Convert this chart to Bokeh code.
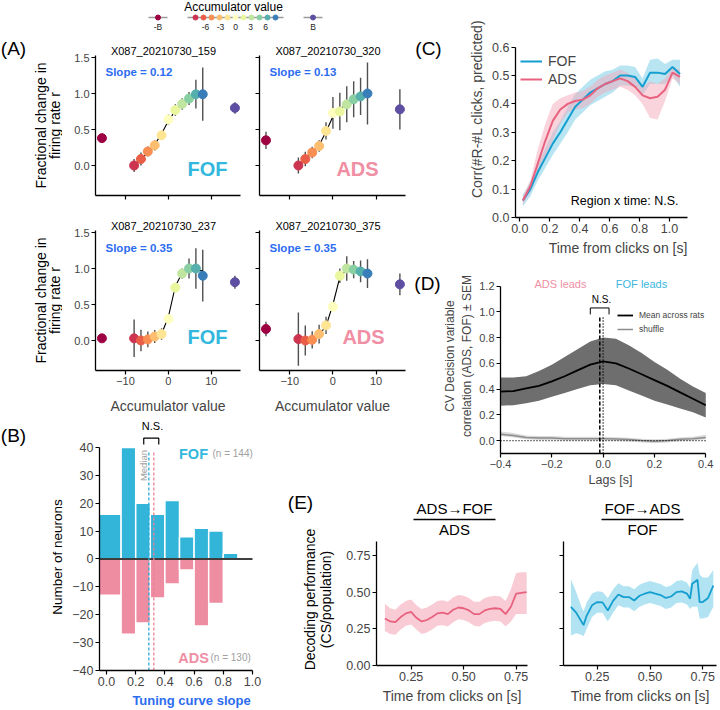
import numpy as np
from bokeh.plotting import figure
from bokeh.models import (Range1d, FixedTicker, Label, Legend, LegendItem, GridBox,
                          NumeralTickFormatter)
from bokeh.layouts import row, column
from bokeh.embed import file_html
from bokeh.resources import INLINE
from bokeh.core.properties import value

# ------------------------------------------------------------------ DATA
# Panel A : tuning curves
acc_bins = [-8, -6.4, -4.8, -3.2, -1.6, 0, 1.6, 3.2, 4.8, 6.4, 8]
acc_bound = 15.5
acc_colors = ["#cc3450", "#ea5d47", "#f98e52", "#fdbf6f", "#fee593", "#ffffbf",
              "#eaf79e", "#bfe5a0", "#88d0a4", "#55afad", "#397eb8"]
negB_color = "#9e0142"
posB_color = "#5e4fa2"
cbar_ticks = [-15.5, -6, -3, 0, 3, 6, 15.5]
cbar_tick_labels = ["-B", "-6", "-3", "0", "3", "6", "B"]

cell_names = ["X087_20210730_159", "X087_20210730_320", "X087_20210730_237", "X087_20210730_375"]
cell_regions = ["FOF", "ADS", "FOF", "ADS"]
cell_slopes = [0.12, 0.13, 0.35, 0.35]

c159_mean = [0.0, 0.09, 0.195, 0.28, 0.42, 0.64, 0.77, 0.855, 0.93, 0.99, 0.99]
c159_err = [0.09, 0.09, 0.07, 0.07, 0.05, 0.07, 0.08, 0.08, 0.09, 0.2, 0.37]
c159_fit = [0.0, 0.08, 0.18, 0.29, 0.44, 0.62, 0.76, 0.86, 0.93, 0.97, 0.99]
c159_negB = (0.38, 0.03)
c159_posB = (0.80, 0.08)

c320_mean = [0.0, 0.09, 0.18, 0.27, 0.48, 0.73, 0.75, 0.85, 0.92, 0.96, 1.0]
c320_err = [0.11, 0.1, 0.08, 0.08, 0.12, 0.22, 0.26, 0.25, 0.25, 0.26, 0.43]
c320_fit = [0.0, 0.09, 0.18, 0.28, 0.47, 0.68, 0.78, 0.86, 0.92, 0.96, 0.99]
c320_negB = (0.35, 0.12)
c320_posB = (0.78, 0.28)

c237_mean = [0.03, 0.0, 0.015, 0.055, 0.09, 0.30, 0.735, 0.93, 1.0, 1.0, 0.9]
c237_err = [0.26, 0.15, 0.11, 0.09, 0.08, 0.03, 0.03, 0.07, 0.14, 0.28, 0.36]
c237_fit = [0.03, 0.03, 0.03, 0.04, 0.09, 0.33, 0.75, 0.94, 0.97, 0.97, 0.97]
c237_negB = (0.03, 0.05)
c237_posB = (0.81, 0.09)

c375_mean = [0.02, 0.0, 0.01, 0.09, 0.21, 0.47, 0.9, 1.0, 0.985, 0.96, 0.93]
c375_err = [0.37, 0.21, 0.12, 0.13, 0.12, 0.03, 0.1, 0.17, 0.12, 0.15, 0.2]
c375_fit = [0.02, 0.02, 0.03, 0.08, 0.2, 0.5, 0.88, 0.98, 0.98, 0.98, 0.98]
c375_negB = (0.16, 0.1)
c375_posB = (0.78, 0.15)

# Panel B : histogram of tuning-curve slopes
hist_left = [-0.05, 0.1, 0.2, 0.3, 0.4, 0.5, 0.6, 0.7, 0.8]
hist_right = [0.1, 0.2, 0.3, 0.4, 0.5, 0.6, 0.7, 0.8, 0.9]
fof_counts = [16, 40, 20, 16, 21, 8, 11, 10, 2]
ads_counts = [-13, -27, -23, -14, -9, -4, -24, -16, 0]
fof_median = 0.29
ads_median = 0.324
n_fof = 144
n_ads = 130

# Panel C : correlation with clicks
c_time = [0.02, 0.07, 0.12, 0.17, 0.22, 0.27, 0.32, 0.37, 0.42, 0.47, 0.52,
          0.57, 0.62, 0.67, 0.72, 0.77, 0.82, 0.87, 0.92, 0.97, 1.02, 1.07]
c_fof = [0.06, 0.10, 0.16, 0.21, 0.26, 0.30, 0.345, 0.39, 0.415, 0.44, 0.455,
         0.47, 0.48, 0.50, 0.50, 0.495, 0.46, 0.51, 0.51, 0.505, 0.53, 0.505]
c_fof_lo = [0.04, 0.075, 0.13, 0.175, 0.22, 0.26, 0.30, 0.345, 0.37, 0.395, 0.41,
            0.425, 0.44, 0.465, 0.465, 0.46, 0.43, 0.47, 0.47, 0.47, 0.50, 0.46]
c_fof_hi = [0.08, 0.125, 0.19, 0.245, 0.30, 0.34, 0.39, 0.435, 0.46, 0.485, 0.50,
            0.515, 0.52, 0.535, 0.535, 0.53, 0.49, 0.555, 0.56, 0.54, 0.555, 0.555]
c_ads = [0.06, 0.11, 0.19, 0.27, 0.34, 0.38, 0.40, 0.41, 0.415, 0.43, 0.455,
         0.47, 0.48, 0.49, 0.48, 0.46, 0.43, 0.42, 0.425, 0.45, 0.51, 0.495]
c_ads_lo = [0.045, 0.09, 0.15, 0.21, 0.27, 0.33, 0.37, 0.38, 0.385, 0.40, 0.425,
            0.44, 0.45, 0.46, 0.45, 0.43, 0.40, 0.35, 0.345, 0.41, 0.49, 0.47]
c_ads_hi = [0.075, 0.13, 0.24, 0.33, 0.40, 0.42, 0.43, 0.44, 0.445, 0.46, 0.485,
            0.50, 0.51, 0.52, 0.51, 0.49, 0.46, 0.48, 0.47, 0.49, 0.53, 0.52]

# Panel D : cross-correlation of decision variables
lags = [-0.4, -0.35, -0.3, -0.25, -0.2, -0.15, -0.1, -0.05, 0.0, 0.05, 0.1,
        0.15, 0.2, 0.25, 0.3, 0.35, 0.4]
dv_mean = [0.38, 0.385, 0.405, 0.425, 0.46, 0.50, 0.545, 0.59, 0.615, 0.60, 0.56,
           0.515, 0.47, 0.425, 0.375, 0.325, 0.275]
dv_hi = [0.49, 0.49, 0.50, 0.54, 0.59, 0.65, 0.71, 0.77, 0.80, 0.79, 0.74,
         0.68, 0.61, 0.55, 0.48, 0.42, 0.37]
dv_lo = [0.27, 0.275, 0.29, 0.31, 0.34, 0.37, 0.40, 0.43, 0.44, 0.43, 0.39,
         0.35, 0.31, 0.28, 0.25, 0.22, 0.18]
sh_mean = [0.05, 0.04, 0.025, 0.02, 0.02, 0.015, 0.015, 0.015, 0.015, 0.012, 0.008,
           0.0, -0.005, 0.0, 0.01, 0.015, 0.025]
sh_lo = [0.035, 0.025, 0.01, 0.005, 0.005, 0.0, 0.0, 0.0, 0.0, -0.003, -0.007,
         -0.015, -0.02, -0.015, -0.005, 0.0, 0.01]
sh_hi = [0.07, 0.06, 0.04, 0.035, 0.035, 0.03, 0.03, 0.03, 0.03, 0.027, 0.023,
         0.015, 0.01, 0.015, 0.025, 0.03, 0.045]
peak_lag = -0.013

# Panel E : decoding performance
e_ads_t = [0.125, 0.15, 0.175, 0.2, 0.225, 0.25, 0.275, 0.3, 0.325, 0.35, 0.375, 0.4,
           0.425, 0.45, 0.475, 0.5, 0.525, 0.55, 0.575, 0.6, 0.625, 0.65, 0.675, 0.7,
           0.725, 0.75, 0.775, 0.8]
e_ads = [0.32, 0.30, 0.295, 0.33, 0.355, 0.365, 0.325, 0.30, 0.31, 0.33, 0.355, 0.36,
         0.35, 0.38, 0.395, 0.39, 0.375, 0.35, 0.35, 0.375, 0.385, 0.39, 0.385, 0.35,
         0.40, 0.49, 0.495, 0.50]
e_ads_lo = [0.235, 0.215, 0.21, 0.245, 0.27, 0.28, 0.245, 0.215, 0.225, 0.245, 0.27, 0.275,
            0.265, 0.295, 0.315, 0.31, 0.295, 0.27, 0.265, 0.29, 0.30, 0.305, 0.30, 0.265,
            0.30, 0.35, 0.35, 0.35]
e_ads_hi = [0.42, 0.39, 0.38, 0.415, 0.44, 0.45, 0.41, 0.385, 0.395, 0.415, 0.44, 0.445,
            0.435, 0.465, 0.48, 0.475, 0.46, 0.435, 0.435, 0.46, 0.47, 0.475, 0.47, 0.44,
            0.52, 0.63, 0.635, 0.635]
e_fof_t = [0.125, 0.15, 0.175, 0.185, 0.2, 0.225, 0.25, 0.275, 0.3, 0.325, 0.35, 0.375,
           0.4, 0.425, 0.45, 0.475, 0.5, 0.525, 0.55, 0.575, 0.6, 0.625, 0.65, 0.675,
           0.69, 0.7, 0.725, 0.735, 0.75, 0.775, 0.8]
e_fof = [0.40, 0.36, 0.30, 0.275, 0.34, 0.41, 0.432, 0.43, 0.375, 0.44, 0.484, 0.466,
         0.466, 0.443, 0.475, 0.489, 0.50, 0.489, 0.48, 0.46, 0.47, 0.50, 0.505, 0.49,
         0.455, 0.557, 0.584, 0.432, 0.432, 0.46, 0.545]
e_fof_lo = [0.205, 0.22, 0.21, 0.2, 0.25, 0.33, 0.36, 0.36, 0.30, 0.36, 0.41, 0.395,
            0.395, 0.37, 0.40, 0.415, 0.425, 0.415, 0.405, 0.385, 0.395, 0.425, 0.43, 0.415,
            0.385, 0.40, 0.40, 0.32, 0.32, 0.33, 0.40]
e_fof_hi = [0.59, 0.50, 0.40, 0.37, 0.43, 0.49, 0.505, 0.50, 0.46, 0.52, 0.56, 0.54,
            0.54, 0.52, 0.55, 0.565, 0.575, 0.565, 0.555, 0.535, 0.545, 0.575, 0.58, 0.565,
            0.53, 0.65, 0.70, 0.62, 0.60, 0.60, 0.65]

# ------------------------------------------------------------------ STYLE
FONT = "Liberation Sans"
FOF_BAR = "#33b4d9"
ADS_BAR = "#ee8da2"
FOF_TXT = "#33b8dd"
ADS_TXT = "#f08ea4"
FOF_LINE = "#159fd1"
ADS_LINE = "#e8627f"
FOF_BAND = "#7fd0ea"
ADS_BAND = "#f3a9b9"
BLUE = "#2c6cf0"
GRAYTXT = "#a0a0a0"
MINUS = "\u2212"
FRAMES = {}


def mkfig(box, frame, xr, yr, axes=True):
    x0, y0, x1, y1 = box
    fl, ft, fr, fb = frame
    kw = dict(width=x1 - x0, height=y1 - y0,
              x_range=Range1d(*xr), y_range=Range1d(*yr),
              output_backend="svg", toolbar_location=None, title=None,
              min_border_left=fl - x0, min_border_right=x1 - fr,
              min_border_top=ft - y0, min_border_bottom=y1 - fb)
    if not axes:
        kw.update(x_axis_location=None, y_axis_location=None)
    p = figure(**kw)
    p.outline_line_color = None
    p.xgrid.visible = False
    p.ygrid.visible = False
    p.background_fill_color = "white"
    p.border_fill_color = "white"
    FRAMES[p.id] = frame
    return p


def strip(box, frame):
    # a plain text strip whose data coordinates are the page pixels
    fl, ft, fr, fb = frame
    return mkfig(box, frame, (fl, fr), (fb, ft), axes=False)


def stext(p, X, Y, text, size, angle=0.0, color="black"):
    p.text(x=[X], y=[Y], text=[text], text_font=value(FONT), text_font_size=size,
           text_align="center", text_baseline="middle", angle=angle, text_color=color)


def style_axes(p, tick_fs, label_fs, label_standoff=5):
    for ax in p.axis:
        ax.axis_line_width = 1.3
        ax.axis_line_color = "black"
        ax.major_tick_in = 0
        ax.major_tick_out = 4
        ax.major_tick_line_width = 1.2
        ax.minor_tick_line_color = None
        ax.major_label_text_font = FONT
        ax.major_label_text_font_size = tick_fs
        ax.major_label_standoff = 2
        ax.axis_label_text_font = FONT
        ax.axis_label_text_font_size = label_fs
        ax.axis_label_text_font_style = "normal"
        ax.axis_label_standoff = label_standoff


def lab(p, X, Y, text, size, color="black", bold=False, align="center",
        baseline="middle", angle=0.0):
    fl, ft, fr, fb = FRAMES[p.id]
    p.add_layout(Label(x=X - fl, y=fb - Y, x_units="screen", y_units="screen",
                       text=text, text_font=FONT, text_font_size=size, text_color=color,
                       text_font_style="bold" if bold else "normal",
                       text_align=align, text_baseline=baseline, angle=angle))


def minus_overrides(ticks, fmt):
    return {t: (MINUS + fmt.format(-t)) if t < 0 else fmt.format(t) for t in ticks}


# ------------------------------------------------------------------ COLORBAR LEGEND (top)
pcb = mkfig((0, 0, 410, 36), (0, 0, 410, 36), (-47, 35), (36, 0), axes=False)
cb_y = 17
pcb.segment(x0=[acc_bins[0] - 1.6, -acc_bound - 1.9, acc_bound - 1.9],
            y0=[cb_y] * 3,
            x1=[acc_bins[-1] + 1.6, -acc_bound + 1.9, acc_bound + 1.9],
            y1=[cb_y] * 3, line_color="#9a9a9a", line_width=1.5)
pcb.scatter(x=[-acc_bound] + acc_bins + [acc_bound], y=[cb_y] * 13, size=5,
            color=[negB_color] + acc_colors + [posB_color])
pcb.text(x=cbar_ticks, y=[26] * len(cbar_ticks), text=cbar_tick_labels,
         text_font=value(FONT), text_font_size="8.5px", text_align="center",
         text_baseline="middle", text_color="#222222")
pcb.text(x=[-0.4], y=[6], text=["Accumulator value"], text_font=value(FONT),
         text_font_size="12px", text_align="center", text_baseline="middle")

# ------------------------------------------------------------------ PANEL A
cells = [(c159_mean, c159_err, c159_fit, c159_negB, c159_posB),
         (c320_mean, c320_err, c320_fit, c320_negB, c320_posB),
         (c237_mean, c237_err, c237_fit, c237_negB, c237_posB),
         (c375_mean, c375_err, c375_fit, c375_negB, c375_posB)]
A_boxes = [(62, 36, 250, 218), (250, 36, 410, 218), (62, 218, 250, 418), (250, 218, 410, 418)]
A_frames = [(95, 36, 240, 195), (259, 36, 405, 195), (95, 218, 240, 370), (259, 218, 405, 370)]
A_axis_top = [55, 55, 230, 230]
A_zero = [165, 165, 340, 340]
A_ppu = 72.0
A_figs = []
for i in range(4):
    mean, err, fit, nb, pb = cells[i]
    fl, ft, fr, fb = A_frames[i]
    y_lo = -(fb - A_zero[i]) / A_ppu
    y_hi = (A_zero[i] - ft) / A_ppu
    p = mkfig(A_boxes[i], A_frames[i], (-17, 16.8), (y_lo, y_hi))
    xs = [-acc_bound] + acc_bins + [acc_bound]
    ms = [nb[0]] + mean + [pb[0]]
    es = [nb[1]] + err + [pb[1]]
    lo = [m - e for m, e in zip(ms, es)]
    hi = [m + e for m, e in zip(ms, es)]
    p.segment(x0=xs, y0=lo, x1=xs, y1=hi, line_color="#505050", line_width=1.4)
    p.line(acc_bins, fit, line_color="black", line_width=1.1)
    p.scatter(x=xs, y=ms, size=9, color=[negB_color] + acc_colors + [posB_color])
    style_axes(p, "11px", "14px", 10)
    p.xaxis.ticker = FixedTicker(ticks=[-10, 0, 10])
    p.yaxis.ticker = FixedTicker(ticks=[0, 0.5, 1.0, 1.5])
    p.yaxis.formatter = NumeralTickFormatter(format="0.0")
    p.yaxis.bounds = (y_lo, (A_zero[i] - A_axis_top[i]) / A_ppu)
    if i < 2:
        p.xaxis.major_label_overrides = {-10: "", 0: "", 10: ""}
    else:
        p.xaxis.major_label_overrides = {-10: MINUS + "10", 0: "0", 10: "10"}
        p.xaxis.axis_label = "Accumulator value"
    if i % 2 == 1:
        p.yaxis.major_label_overrides = {0: "", 0.5: "", 1: "", 1.5: ""}
    top = i < 2
    at = A_axis_top[i]
    lab(p, (fl + fr) / 2 - 4.5, at - 4.5, cell_names[i], "11px")
    lab(p, fl + 10, at + (16 if top else 17), "Slope = %.2f" % cell_slopes[i], "11.5px",
        color=BLUE, bold=True, align="left")
    reg = cell_regions[i]
    rx = fl + (112 if reg == "FOF" else (98 if top else 104))
    ry = fb - (27 if top else 34)
    lab(p, rx, ry, reg, "20px", color=FOF_TXT if reg == "FOF" else ADS_TXT, bold=True)
    A_figs.append(p)

stripA = strip((0, 36, 62, 418), (0, 36, 62, 418))
stext(stripA, 13, 48, "(A)", "19px")
for yc in [(55 + 195) / 2, (230 + 370) / 2]:
    stext(stripA, 40, yc, "Fractional change in", "14px", angle=np.pi / 2)
    stext(stripA, 54, yc, "firing rate r", "14px", angle=np.pi / 2)

blockA = column(pcb, row(stripA, column(row(A_figs[0], A_figs[1]),
                                        row(A_figs[2], A_figs[3]))))

# ------------------------------------------------------------------ PANEL B
B_frame = (99, 418, 283, 671)
B_ppx = 146.0   # px per unit slope
B_ppy = 2.8     # px per neuron
pB = mkfig((64, 418, 283, 710), B_frame, (-0.048, 1.0 + (283 - 252) / B_ppx),
           (-40, -40 + (671 - 418) / B_ppy))
pB.quad(left=hist_left, right=hist_right, bottom=0, top=fof_counts,
        fill_color=FOF_BAR, line_color="white", line_width=1.5)
pB.quad(left=hist_left, right=hist_right, bottom=ads_counts, top=0,
        fill_color=ADS_BAR, line_color="white", line_width=1.5)
pB.segment(x0=[-0.048], y0=[0], x1=[1.0], y1=[0], line_color="black", line_width=1.5)
pB.segment(x0=[fof_median], y0=[-40], x1=[fof_median], y1=[38.6],
           line_color="#2aaad6", line_dash="3 2", line_width=1.3)
pB.segment(x0=[ads_median], y0=[-40], x1=[ads_median], y1=[38.6],
           line_color="#ec7f98", line_dash="3 2", line_width=1.3)
pB.multi_line(xs=[[0.255, 0.255, 0.358, 0.358]], ys=[[41.0, 43.3, 43.3, 41.0]],
              line_color="black", line_width=1.2)
style_axes(pB, "12.5px", "13.5px", 6)
yt = [-40, -30, -20, -10, 0, 10, 20, 30, 40]
pB.yaxis.ticker = FixedTicker(ticks=yt)
pB.yaxis.major_label_overrides = minus_overrides(yt, "{:d}")
pB.yaxis.bounds = (-40, 40)
pB.xaxis.bounds = (-0.048, 1.0)
pB.xaxis.ticker = FixedTicker(ticks=[0, 0.2, 0.4, 0.6, 0.8, 1.0])
pB.xaxis.formatter = NumeralTickFormatter(format="0.0")
pB.xaxis.axis_label = "Tuning curve slope"
pB.xaxis.axis_label_text_color = BLUE
pB.xaxis.axis_label_text_font_style = "bold"
pB.xaxis.axis_label_text_font_size = "13px"
pB.xaxis.axis_label_standoff = 4
lab(pB, 152, 426, "N.S.", "11px")
lab(pB, 143, 466, "Median", "9.5px", color=GRAYTXT, angle=np.pi / 2)
lab(pB, 193, 454, "FOF", "14.5px", color=FOF_TXT, bold=True)
lab(pB, 212, 454, "(n = %d)" % n_fof, "10px", color=GRAYTXT, align="left")
lab(pB, 193, 658, "ADS", "14.5px", color=ADS_TXT, bold=True)
lab(pB, 210, 658, "(n = %d)" % n_ads, "10px", color=GRAYTXT, align="left")

stripB = strip((0, 418, 64, 710), (0, 418, 64, 671))
stext(stripB, 13, 435, "(B)", "19px")
stext(stripB, 57, 557, "Number of neurons", "13.5px", angle=np.pi / 2)

blockB = row(stripB, pB)

# ------------------------------------------------------------------ PANEL C
C_frame = (515, 0, 720, 219)
C_ppx = 149.7
C_ppy = (219 - 47) / 0.6
pC = mkfig((459, 0, 720, 258), C_frame, (-0.029, 1.12 + (720 - 687) / C_ppx),
           (0, 0.6 + 47 / C_ppy))
pC.varea(x=c_time, y1=c_fof_lo, y2=c_fof_hi, fill_color=FOF_BAND, fill_alpha=0.55)
pC.varea(x=c_time, y1=c_ads_lo, y2=c_ads_hi, fill_color=ADS_BAND, fill_alpha=0.5)
lf = pC.line(c_time, c_fof, line_color=FOF_LINE, line_width=2)
la = pC.line(c_time, c_ads, line_color=ADS_LINE, line_width=2)
style_axes(pC, "12.5px", "14px", 4)
pC.xaxis.ticker = FixedTicker(ticks=[0, 0.2, 0.4, 0.6, 0.8, 1.0])
pC.xaxis.formatter = NumeralTickFormatter(format="0.0")
pC.xaxis.bounds = (-0.029, 1.12)
pC.yaxis.ticker = FixedTicker(ticks=[0, 0.1, 0.2, 0.3, 0.4, 0.5, 0.6])
pC.yaxis.formatter = NumeralTickFormatter(format="0.0")
pC.yaxis.bounds = (0, 0.6)
pC.xaxis.axis_label = "Time from clicks on [s]"
pC.yaxis.axis_label = "Corr(#R-#L clicks, predicted)"
legC = Legend(items=[LegendItem(label="FOF", renderers=[lf]),
                     LegendItem(label="ADS", renderers=[la])],
              location=(5, 219 - 89), margin=0, padding=3, spacing=2,
              label_text_font=FONT, label_text_font_size="14px",
              glyph_width=22, glyph_height=14, label_height=14, label_standoff=6,
              border_line_color=None, background_fill_alpha=0)
pC.add_layout(legC)
lab(pC, 678, 202, "Region x time: N.S.", "12.5px", align="right")

stripC = strip((410, 0, 459, 258), (410, 0, 459, 219))
stext(stripC, 428, 48, "(C)", "19px")
blockC = row(stripC, pC)

# ------------------------------------------------------------------ PANEL D
D_frame = (496, 258, 720, 456)
D_ppx = 261.25
D_ppy = 130.8
pD = mkfig((440, 258, 720, 489), D_frame, (-0.4, 0.4 + (720 - 705) / D_ppx),
           (-0.1, 1.2 + (286 - 258) / D_ppy))
pD.varea(x=lags, y1=dv_lo, y2=dv_hi, fill_color="#6e6e6e")
lm = pD.line(lags, dv_mean, line_color="black", line_width=1.8)
pD.varea(x=lags, y1=sh_lo, y2=sh_hi, fill_color="#dadada")
ls = pD.line(lags, sh_mean, line_color="#8c8c8c", line_width=1.5)
pD.segment(x0=[lags[0]], y0=[0], x1=[lags[-1]], y1=[0], line_color="black",
           line_dash="1 2", line_width=1.3)
pD.segment(x0=[peak_lag], y0=[-0.1], x1=[peak_lag], y1=[0.97], line_color="black",
           line_dash="4 2", line_width=1.5)
pD.segment(x0=[0.0], y0=[-0.1], x1=[0.0], y1=[0.97], line_color="black",
           line_dash="1 2", line_width=1.5)
pD.multi_line(xs=[[-0.05, -0.05, 0.023, 0.023]], ys=[[0.98, 1.03, 1.03, 0.98]],
              line_color="black", line_width=1.0)
style_axes(pD, "11px", "12px", 2)
xt = [-0.4, -0.2, 0.0, 0.2, 0.4]
pD.xaxis.ticker = FixedTicker(ticks=xt)
pD.xaxis.major_label_overrides = minus_overrides(xt, "{:.1f}")
pD.xaxis.bounds = (-0.4, 0.4)
pD.yaxis.ticker = FixedTicker(ticks=[0, 0.2, 0.4, 0.6, 0.8, 1.0, 1.2])
pD.yaxis.formatter = NumeralTickFormatter(format="0.0")
pD.yaxis.bounds = (-0.1, 1.2)
pD.xaxis.axis_label = "Lags [s]"
pD.xaxis.axis_label_text_font_size = "12.5px"
pD.yaxis.axis_label = "CV Decision variable\ncorrelation (ADS, FOF) \u00b1 SEM"
legD = Legend(items=[LegendItem(label="Mean across rats", renderers=[lm]),
                     LegendItem(label="shuffle", renderers=[ls])],
              location=(613 - 496, 456 - 338),
              margin=0, padding=2, spacing=2,
              label_text_font=FONT, label_text_font_size="8.5px",
              glyph_width=16, glyph_height=12, label_height=12, label_standoff=6,
              border_line_color=None, background_fill_alpha=0)
pD.add_layout(legD)
lab(pD, 556, 286, "ADS leads", "11px", color=ADS_TXT)
lab(pD, 637, 286, "FOF leads", "11px", color="#3bb6dc")
lab(pD, 597, 302, "N.S.", "10px")

stripD = strip((410, 258, 440, 489), (410, 258, 440, 456))
stext(stripD, 427, 283, "(D)", "19px")
blockD = row(stripD, pD)

blockCD = column(blockC, blockD)

# ------------------------------------------------------------------ PANEL E
E1_frame = (376, 489, 527, 665)
E2_frame = (563, 489, 716, 665)
E_ppy = 146.8
E_yr = (0, (665 - 489) / E_ppy)
E1_xr = (0.085, 0.804)
E2_xr = (0.09, 0.815)
pE1 = mkfig((340, 489, 545, 710), E1_frame, E1_xr, E_yr)
pE2 = mkfig((545, 489, 720, 710), E2_frame, E2_xr, E_yr)


def xE(X, frame, xr):
    fl, ft, fr, fb = frame
    return xr[0] + (X - fl) / (fr - fl) * (xr[1] - xr[0])


def yE(Y):
    return (665 - Y) / E_ppy


for p, t, m, lo_, hi_, lc, bc, title, sub, frame, xr, cx, ux in [
        (pE1, e_ads_t, e_ads, e_ads_lo, e_ads_hi, ADS_LINE, ADS_BAND, "ADS\u2192FOF", "ADS",
         E1_frame, E1_xr, 454, (413, 495)),
        (pE2, e_fof_t, e_fof, e_fof_lo, e_fof_hi, FOF_LINE, FOF_BAND, "FOF\u2192ADS", "FOF",
         E2_frame, E2_xr, 642, (601, 683))]:
    p.varea(x=t, y1=lo_, y2=hi_, fill_color=bc, fill_alpha=0.6)
    p.line(t, m, line_color=lc, line_width=1.8)
    p.segment(x0=[xE(ux[0], frame, xr)], y0=[yE(519)], x1=[xE(ux[1], frame, xr)],
              y1=[yE(519)], line_color="black", line_width=1.3)
    style_axes(p, "12.5px", "14px", 10)
    p.xaxis.ticker = FixedTicker(ticks=[0.25, 0.5, 0.75])
    p.xaxis.formatter = NumeralTickFormatter(format="0.00")
    p.yaxis.ticker = FixedTicker(ticks=[0, 0.25, 0.5, 0.75])
    p.yaxis.formatter = NumeralTickFormatter(format="0.00")
    p.yaxis.bounds = (0, 0.845)
    p.xaxis.axis_label = "Time from clicks on [s]"
    p.xaxis.axis_label_standoff = 4
    lab(p, cx, 508, title, "15px")
    lab(p, cx, 529, sub, "15px")
pE2.yaxis.major_label_overrides = {0: "", 0.25: "", 0.5: "", 0.75: ""}

stripE = strip((283, 489, 340, 710), (283, 489, 340, 710))
stext(stripE, 300, 502, "(E)", "19px")
stext(stripE, 309, 599, "Decoding performance", "14px", angle=np.pi / 2)
stext(stripE, 325, 599, "(CS/population)", "14px", angle=np.pi / 2)

blockE = row(column(stripE), pE1, pE2)

# ------------------------------------------------------------------ GRID
grid = GridBox(children=[(blockA, 0, 0, 1, 2), (blockCD, 0, 2, 2, 1),
                         (blockB, 1, 0, 2, 1), (blockE, 2, 1, 1, 2)],
               rows=["418px", "71px", "221px"], cols=["283px", "127px", "310px"],
               spacing=0)

open("out.html", "w").write(file_html(grid, INLINE))
